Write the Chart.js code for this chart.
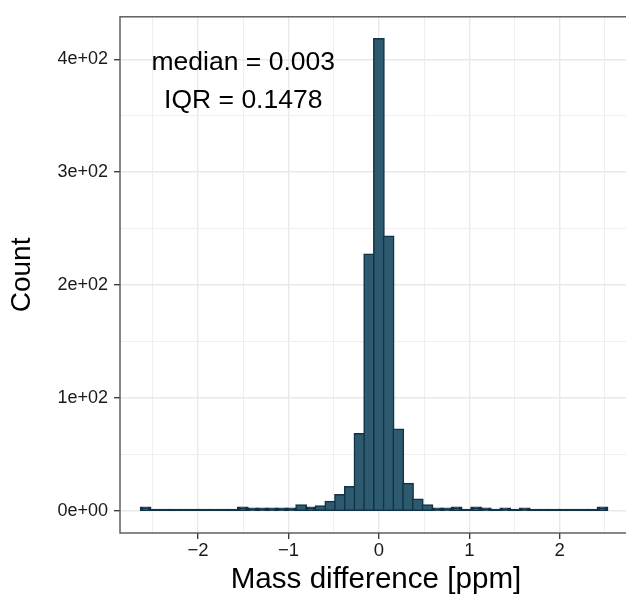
<!DOCTYPE html>
<html>
<head>
<meta charset="utf-8">
<title>Mass difference histogram</title>
<script src="https://cdn.jsdelivr.net/npm/chart.js@4.4.1/dist/chart.umd.min.js"></script>
<style>
  html, body { margin: 0; padding: 0; background: #fff; overflow: hidden; }
  /* the panel runs a few pixels past the right edge of the picture, as in the original */
  #wrap { width: 626px; height: 599px; overflow: hidden; }
</style>
</head>
<body>
<div id="wrap"><canvas id="histChart" width="632" height="599"></canvas></div>
<script>
// histogram bins (centre of each bin, ppm) and their counts
const binCenters = [
  -2.5800, -2.4725, -2.3650, -2.2575, -2.1500, -2.0425, -1.9350, -1.8275,
  -1.7200, -1.6125, -1.5050, -1.3975, -1.2900, -1.1825, -1.0750, -0.9675,
  -0.8600, -0.7525, -0.6450, -0.5375, -0.4300, -0.3225, -0.2150, -0.1075,
  0.0000, 0.1075, 0.2150, 0.3225, 0.4300, 0.5375, 0.6450, 0.7525,
  0.8600, 0.9675, 1.0750, 1.1825, 1.2900, 1.3975, 1.5050, 1.6125,
  1.7200, 1.8275, 1.9350, 2.0425, 2.1500, 2.2575, 2.3650, 2.4725
];
const binCounts = [
  3, 1, 1, 1, 1, 1, 1, 1, 1, 1, 3, 2, 2, 2, 2, 2, 5, 3, 4, 8, 14, 21, 68, 227,
  418, 243, 72, 24, 10, 5, 2, 2, 3, 1, 3, 2, 1, 2, 1, 2, 1, 1, 1, 1, 1, 1, 1, 3
];

const xMajorTicks = [-2, -1, 0, 1, 2];
const xMinorTicks = [-2.5, -1.5, -0.5, 0.5, 1.5, 2.5];
const xTickLabels = ["\u22122", "\u22121", "0", "1", "2"];
const yMajorTicks = [0, 100, 200, 300, 400];
const yMinorTicks = [50, 150, 250, 350];
const yTickLabels = ["0e+00", "1e+02", "2e+02", "3e+02", "4e+02"];

const noteLabels = ["median = 0.003", "IQR = 0.1478"];
const noteX = [-1.5, -1.5];
const noteY = [397, 363];

const FONT = "'Liberation Sans', Arial, Helvetica, sans-serif";
const BAR_FILL = "#2e5a70";
const BAR_LINE = "#123246";

function tickList(major, minor) {
  return major.concat(minor).sort((a, b) => a - b).map((v) => ({ value: v }));
}

function isMajor(list, ctx) {
  return ctx.tick && list.includes(ctx.tick.value);
}

const panelBorder = {
  id: "panelBorder",
  afterDatasetsDraw(chart) {
    const { ctx, chartArea: a } = chart;
    ctx.save();
    ctx.strokeStyle = "#555555";
    ctx.lineWidth = 1.4;
    ctx.strokeRect(a.left, a.top, a.right - a.left, a.bottom - a.top);
    ctx.restore();
  },
};

const notes = {
  id: "notes",
  afterDatasetsDraw(chart) {
    const { ctx, scales } = chart;
    ctx.save();
    ctx.fillStyle = "#000";
    ctx.font = "26.5px " + FONT;
    ctx.textAlign = "center";
    ctx.textBaseline = "middle";
    noteLabels.forEach((txt, i) => {
      ctx.fillText(txt, scales.x.getPixelForValue(noteX[i]), scales.y.getPixelForValue(noteY[i]));
    });
    ctx.restore();
  },
};

new Chart(document.getElementById("histChart").getContext("2d"), {
  type: "bar",
  data: {
    datasets: [
      {
        data: binCenters.map((x, i) => ({ x, y: binCounts[i] })),
        // very short bars are all outline in the original, so paint them dark
        backgroundColor: (ctx) => (ctx.raw && ctx.raw.y <= 3 ? BAR_LINE : BAR_FILL),
        borderColor: BAR_LINE,
        borderWidth: 1.5,
        borderSkipped: false,
        inflateAmount: 1,
        barPercentage: 1,
        categoryPercentage: 1,
      },
    ],
  },
  options: {
    responsive: false,
    animation: false,
    devicePixelRatio: 1,
    layout: { padding: { top: 14, right: 0, bottom: 0, left: 0 } },
    plugins: { legend: { display: false }, tooltip: { enabled: false } },
    scales: {
      x: {
        type: "linear",
        min: -2.863,
        max: 2.799,
        offset: false,
        afterFit: (s) => { s.height = 66; },
        afterBuildTicks: (s) => { s.ticks = tickList(xMajorTicks, xMinorTicks); },
        border: { display: false },
        grid: {
          offset: false,
          color: (ctx) => (isMajor(xMajorTicks, ctx) ? "#e9e9e9" : "#efefef"),
          lineWidth: (ctx) => (isMajor(xMajorTicks, ctx) ? 1.4 : 1),
          tickColor: (ctx) => (isMajor(xMajorTicks, ctx) ? "#333333" : "rgba(0,0,0,0)"),
          tickLength: 6,
          tickWidth: 1.3,
        },
        ticks: {
          autoSkip: false,
          maxRotation: 0,
          padding: 1,
          color: "#1a1a1a",
          font: { family: FONT, size: 18.5 },
          callback: (v) => {
            const i = xMajorTicks.indexOf(v);
            return i >= 0 ? xTickLabels[i] : "";
          },
        },
        title: {
          display: true,
          text: "Mass difference [ppm]",
          color: "#000",
          font: { family: FONT, size: 29.6, lineHeight: 1 },
          padding: { top: 0, bottom: 4 },
        },
      },
      y: {
        type: "linear",
        min: -19.65,
        max: 437.6,
        afterFit: (s) => { s.width = 120; },
        afterBuildTicks: (s) => { s.ticks = tickList(yMajorTicks, yMinorTicks); },
        border: { display: false },
        grid: {
          color: (ctx) => (isMajor(yMajorTicks, ctx) ? "#e9e9e9" : "#efefef"),
          lineWidth: (ctx) => (isMajor(yMajorTicks, ctx) ? 1.4 : 1),
          tickColor: (ctx) => (isMajor(yMajorTicks, ctx) ? "#333333" : "rgba(0,0,0,0)"),
          tickLength: 6,
          tickWidth: 1.3,
        },
        ticks: {
          autoSkip: false,
          padding: 6,
          color: "#1a1a1a",
          font: { family: FONT, size: 18 },
          callback: (v) => {
            const i = yMajorTicks.indexOf(v);
            return i >= 0 ? yTickLabels[i] : "";
          },
        },
        title: {
          display: true,
          text: "Count",
          color: "#000",
          font: { family: FONT, size: 28, lineHeight: 1 },
          padding: { top: 8, bottom: 0 },
        },
      },
    },
  },
  plugins: [panelBorder, notes],
});
</script>
</body>
</html>
